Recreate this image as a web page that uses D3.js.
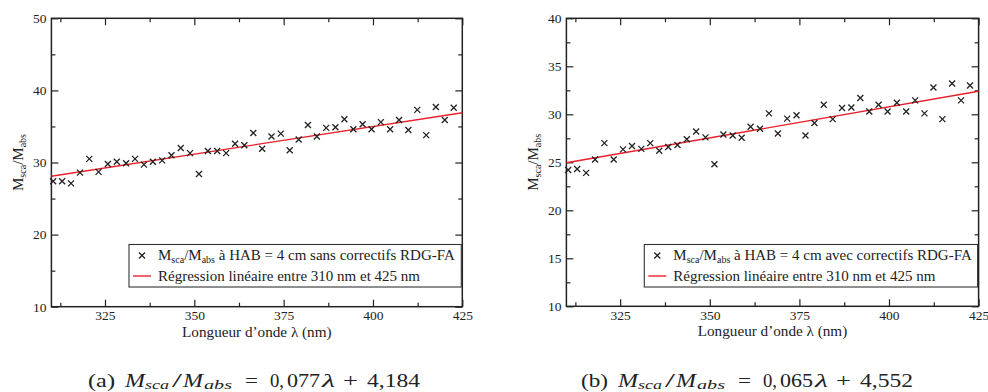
<!DOCTYPE html>
<html>
<head>
<meta charset="utf-8">
<script src="https://cdn.jsdelivr.net/npm/d3@7"></script>
<style>
  html, body { margin: 0; padding: 0; background: #fff; }
  svg { display: block; }
  svg text { font-family: 'Liberation Serif', 'DejaVu Serif', serif; fill: #222; }
</style>
</head>
<body>
<svg id="chart" width="988" height="392"></svg>
<script>
// ---------- data ----------
const wavelengths = [310.5, 313.0, 315.5, 318.0, 320.6, 323.2, 325.8, 328.3, 330.9, 333.4,
  335.9, 338.4, 341.0, 343.6, 346.2, 348.8, 351.3, 353.8, 356.4, 358.9,
  361.4, 364.0, 366.5, 369.0, 371.6, 374.2, 376.7, 379.2, 381.8, 384.3,
  386.9, 389.5, 392.0, 394.5, 397.1, 399.6, 402.2, 404.8, 407.3, 409.9,
  412.4, 414.9, 417.6, 420.1, 422.6];

const ratioSansCorrectifs = [27.4, 27.4, 27.1, 28.6, 30.5, 28.7, 29.8, 30.1, 29.9, 30.5,
  29.7, 30.1, 30.3, 31.0, 32.0, 31.3, 28.4, 31.6, 31.6, 31.3,
  32.6, 32.4, 34.1, 31.9, 33.6, 34.0, 31.7, 33.2, 35.2, 33.6,
  34.8, 34.9, 36.0, 34.6, 35.3, 34.6, 35.6, 34.6, 35.9, 34.5,
  37.3, 33.8, 37.7, 35.9, 37.6];

const ratioAvecCorrectifs = [24.2, 24.3, 23.9, 25.3, 27.0, 25.3, 26.35, 26.7, 26.4, 27.0,
  26.2, 26.6, 26.8, 27.4, 28.2, 27.6, 24.8, 27.9, 27.8, 27.55,
  28.7, 28.5, 30.1, 28.0, 29.55, 29.9, 27.8, 29.1, 31.0, 29.5,
  30.65, 30.7, 31.7, 30.3, 31.0, 30.3, 31.2, 30.3, 31.45, 30.1,
  32.8, 29.5, 33.2, 31.45, 33.0];

// regression lines (endpoints at 310 and 425 nm, as drawn)
const regressionX = [310, 425];
const regressionSans = [28.1, 36.9];
const regressionAvec = [24.95, 32.4];

const xMajorTicks = [325, 350, 375, 400, 425];
const xMinorTicks = [312.5, 337.5, 362.5, 387.5, 412.5];
const yMajorTicksA = [10, 20, 30, 40, 50];
const yMinorTicksA = [15, 25, 35, 45];
const yMajorTicksB = [10, 15, 20, 25, 30, 35, 40];
const yMinorTicksB = [12.5, 17.5, 22.5, 27.5, 32.5, 37.5];

const legendSans = "sans correctifs RDG-FA";
const legendAvec = "avec correctifs RDG-FA";
const captionA = ["(a)", "0,", "077", "4,184"];
const captionB = ["(b)", "0,", "065", "4,552"];

// ---------- drawing ----------
const svg = d3.select("#chart");
const INK = "#222";
const SERIF = "'Liberation Serif', 'DejaVu Serif', serif";

function caption(x0, parts) {
  const g = svg.append("g").attr("transform", `translate(${x0},386.5)`);
  // [text, dx, width, italic, subscript]
  const pieces = [
    [parts[0], 0, 27, false, false],
    ["M", 37, 20, true, false],
    ["sca", 57, 24, true, true],
    ["/", 84, 10, false, false],
    ["M", 95, 20, true, false],
    ["abs", 116, 28, true, true],
    ["=", 157, 13, false, false],
    [parts[1], 182, 14, false, false],
    [parts[2], 199, 33, false, false],
    ["\u03bb", 234, 13, true, false],
    ["+", 255, 15, false, false],
    [parts[3], 279, 53, false, false]
  ];
  g.selectAll("text").data(pieces).join("text")
    .attr("x", d => d[1]).attr("y", d => d[4] ? 2.5 : 0)
    .attr("font-size", d => d[4] ? 12.5 : 19)
    .attr("font-style", d => d[3] ? "italic" : "normal")
    .attr("textLength", d => d[2]).attr("lengthAdjust", "spacingAndGlyphs")
    .style("font-family", SERIF)
    .text(d => d[0]);
}

function panel(cfg) {
  const x = d3.scaleLinear().domain([310, 425]).range([cfg.left, cfg.right]);
  const y = d3.scaleLinear().domain(cfg.yDomain).range([cfg.bottom, cfg.top]);
  const g = svg.append("g");

  const styleAxis = sel => {
    sel.attr("font-family", SERIF);
    sel.select(".domain").remove();
    sel.selectAll("line").attr("stroke", INK).attr("stroke-width", 1.2);
    sel.selectAll("text").attr("font-size", 13.5).attr("fill", INK)
       .style("font-family", SERIF);
  };

  g.append("g").attr("transform", `translate(0,${cfg.bottom})`)
    .call(d3.axisBottom(x).tickValues(xMajorTicks).tickSize(-7).tickPadding(4).tickFormat(d3.format("d")))
    .call(styleAxis);
  g.append("g").attr("transform", `translate(0,${cfg.bottom})`)
    .call(d3.axisBottom(x).tickValues(xMinorTicks).tickSize(-4).tickFormat(""))
    .call(styleAxis);
  g.append("g").attr("transform", `translate(0,${cfg.top})`)
    .call(d3.axisTop(x).tickValues(xMajorTicks).tickSize(-7).tickFormat(""))
    .call(styleAxis);
  g.append("g").attr("transform", `translate(0,${cfg.top})`)
    .call(d3.axisTop(x).tickValues(xMinorTicks).tickSize(-4).tickFormat(""))
    .call(styleAxis);
  g.append("g").attr("transform", `translate(${cfg.left},0)`)
    .call(d3.axisLeft(y).tickValues(cfg.yMajor).tickSize(-7).tickPadding(5).tickFormat(d3.format("d")))
    .call(styleAxis);
  g.append("g").attr("transform", `translate(${cfg.left},0)`)
    .call(d3.axisLeft(y).tickValues(cfg.yMinor).tickSize(-4).tickFormat(""))
    .call(styleAxis);
  g.append("g").attr("transform", `translate(${cfg.right},0)`)
    .call(d3.axisRight(y).tickValues(cfg.yMajor).tickSize(-7).tickFormat(""))
    .call(styleAxis);
  g.append("g").attr("transform", `translate(${cfg.right},0)`)
    .call(d3.axisRight(y).tickValues(cfg.yMinor).tickSize(-4).tickFormat(""))
    .call(styleAxis);

  g.append("rect")
    .attr("x", cfg.left).attr("y", cfg.top)
    .attr("width", cfg.right - cfg.left).attr("height", cfg.bottom - cfg.top)
    .attr("fill", "none").attr("stroke", INK).attr("stroke-width", 1.5);

  const line = d3.line().x(d => x(d[0])).y(d => y(d[1]));
  g.append("path")
    .datum(regressionX.map((v, i) => [v, cfg.reg[i]]))
    .attr("d", line).attr("fill", "none")
    .attr("stroke", "#e8202a").attr("stroke-width", 1.4);

  const cross = "M-3,-3L3,3M-3,3L3,-3";
  g.append("g").selectAll("path")
    .data(wavelengths.map((w, i) => [w, cfg.values[i]]))
    .join("path")
    .attr("transform", d => `translate(${x(d[0])},${y(d[1])})`)
    .attr("d", cross).attr("fill", "none")
    .attr("stroke", INK).attr("stroke-width", 1.3);

  const yt = g.append("text")
    .attr("transform", `translate(${cfg.left - 28},${(cfg.top + cfg.bottom) / 2}) rotate(-90)`)
    .attr("text-anchor", "middle").attr("font-size", 15).style("font-family", SERIF);
  yt.append("tspan").text("M");
  yt.append("tspan").text("sca").attr("font-size", 10).attr("dy", 3);
  yt.append("tspan").text("/M").attr("dy", -3);
  yt.append("tspan").text("abs").attr("font-size", 10).attr("dy", 3);

  g.append("text")
    .attr("x", (cfg.left + cfg.right) / 2).attr("y", cfg.bottom + 30)
    .attr("text-anchor", "middle").attr("font-size", 15.2).style("font-family", SERIF)
    .text("Longueur d\u2019onde \u03bb (nm)");

  const lg = g.append("g");
  const lx = cfg.legendLeft, ly = 244.5, lw = cfg.right - 1 - cfg.legendLeft, lh = 42.5;
  lg.append("rect").attr("x", lx).attr("y", ly).attr("width", lw).attr("height", lh)
    .attr("fill", "#fff").attr("stroke", "#333").attr("stroke-width", 1.1);
  lg.append("path").attr("transform", `translate(${lx + 13},${ly + 11})`)
    .attr("d", cross).attr("fill", "none").attr("stroke", INK).attr("stroke-width", 1.3);
  lg.append("line").attr("x1", lx + 4).attr("x2", lx + 22)
    .attr("y1", ly + 31.5).attr("y2", ly + 31.5)
    .attr("stroke", "#e8202a").attr("stroke-width", 1.4);
  const t1 = lg.append("text").attr("x", lx + 29).attr("y", ly + 15.5)
    .attr("font-size", 15).style("font-family", SERIF);
  t1.append("tspan").text("M");
  t1.append("tspan").text("sca").attr("font-size", 10).attr("dy", 3);
  t1.append("tspan").text("/M").attr("dy", -3);
  t1.append("tspan").text("abs").attr("font-size", 10).attr("dy", 3);
  t1.append("tspan").text(" \u00e0 HAB = 4 cm " + cfg.legendText).attr("dy", -3);
  lg.append("text").attr("x", lx + 29).attr("y", ly + 36)
    .attr("font-size", 15).style("font-family", SERIF)
    .text("R\u00e9gression lin\u00e9aire entre 310 nm et 425 nm");

  caption(cfg.captionX, cfg.caption);
}

panel({
  left: 51.4, right: 462.3, top: 18.3, bottom: 306.7,
  yDomain: [10, 50], yMajor: yMajorTicksA, yMinor: yMinorTicksA,
  values: ratioSansCorrectifs, reg: regressionSans,
  legendLeft: 129, legendText: legendSans,
  caption: captionA, captionX: 88
});
panel({
  left: 566.4, right: 978.6, top: 18.3, bottom: 306.3,
  yDomain: [10, 40], yMajor: yMajorTicksB, yMinor: yMinorTicksB,
  values: ratioAvecCorrectifs, reg: regressionAvec,
  legendLeft: 644.3, legendText: legendAvec,
  caption: captionB, captionX: 581
});
</script>
</body>
</html>
